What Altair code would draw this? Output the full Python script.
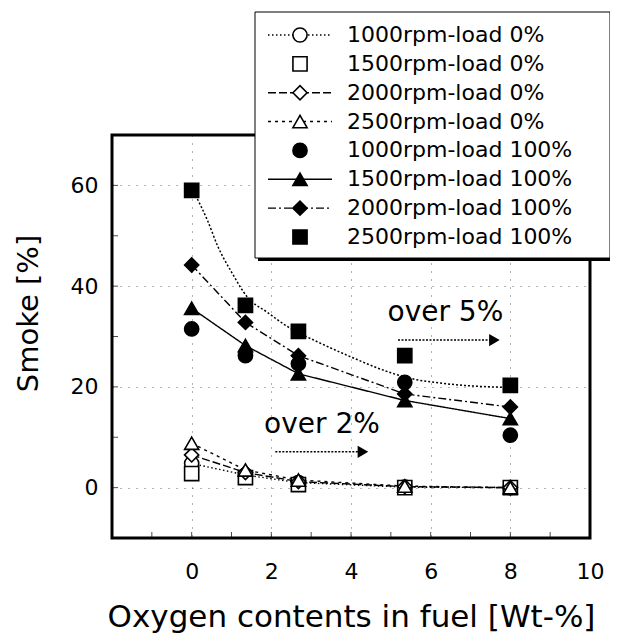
import altair as alt
import pandas as pd

FONT = "DejaVu Sans"

# ---------------- data ----------------
series = ["1000rpm-load 0%", "1500rpm-load 0%", "2000rpm-load 0%", "2500rpm-load 0%",
          "1000rpm-load 100%", "1500rpm-load 100%", "2000rpm-load 100%", "2500rpm-load 100%"]
oxygen = [0.0, 1.35, 2.68, 5.35, 8.0]

s1000_0 = [4.8, 2.5, 1.0, 0.1, 0.0]
s1500_0 = [2.8, 2.0, 0.6, 0.0, 0.0]
s2000_0 = [6.5, 3.0, 1.2, 0.2, 0.0]
s2500_0 = [8.8, 3.5, 1.5, 0.3, 0.0]
s1000_100 = [31.5, 26.2, 24.6, 20.9, 10.4]
s1500_100 = [35.6, 28.2, 22.6, 17.3, 13.7]
s2000_100 = [44.2, 32.8, 26.2, 18.6, 16.0]
s2500_100 = [59.0, 36.2, 31.0, 26.2, 20.3]
values = [s1000_0, s1500_0, s2000_0, s2500_0, s1000_100, s1500_100, s2000_100, s2500_100]

# fitted trend curve through the 2500rpm-load 100% points
fit_x = [0.1, 0.4, 0.65, 1.0, 1.4, 1.9, 2.4, 3.17, 3.75, 4.1, 5.0, 5.6, 6.3, 7.0, 8.0]
fit_y = [58.0, 53.0, 48.0, 42.8, 37.8, 34.8, 32.0, 28.9, 26.8, 25.6, 22.8, 21.5, 20.7, 20.2, 19.9]

shapes = ["circle", "square", "diamond", "triangle-up", "circle", "triangle-up", "diamond", "square"]
fills = ["white", "white", "white", "white", "black", "black", "black", "black"]
sizes = [200, 200, 230, 200, 90, 110, 120, 150]

line_series = ["1000rpm-load 0%", "2000rpm-load 0%", "2500rpm-load 0%",
               "1500rpm-load 100%", "2000rpm-load 100%"]
line_dashes = [[1.5, 2.5], [8, 3], [3, 4], [1, 0], [8, 3, 2, 3]]

ann_text = ["over 5%", "over 2%"]
ann_x = [6.37, 3.27]
ann_y = [34.7, 12.5]
arrow_x0 = [5.18, 2.1]
arrow_x1 = [7.6, 4.3]
arrow_y = [29.3, 7.1]

x_ticks = [-1, 0, 1, 2, 3, 4, 5, 6, 7, 8, 9]
y_ticks = [-10, 0, 10, 20, 30, 40, 50, 60]

# ---------------- tables ----------------
rows = []
for s, v in zip(series, values):
    for xv, yv in zip(oxygen, v):
        rows.append({"series": s, "x": xv, "y": yv})
pts = pd.DataFrame(rows)
lines_df = pts[pts["series"].isin(line_series)]
fit_df = pd.DataFrame({"x": fit_x, "y": fit_y})
ann_df = pd.DataFrame({"text": ann_text, "x": ann_x, "y": ann_y})
arr_df = pd.DataFrame({"x": arrow_x0, "x2": arrow_x1, "y": arrow_y})
xt_df = pd.DataFrame({"x": x_ticks})
yt_df = pd.DataFrame({"y": y_ticks})
leg_df = pd.DataFrame({"series": series, "row": list(range(len(series))), "label": series})
leg_line_df = leg_df[leg_df["series"].isin(line_series)]
one = pd.DataFrame({"a": [0]})

xs = alt.Scale(domain=[-2, 10], nice=False, zero=False)
ys = alt.Scale(domain=[-10, 70], nice=False, zero=False)

x_axis = alt.Axis(values=[0, 2, 4, 6, 8, 10], title="Oxygen contents in fuel [Wt-%]",
                  grid=True, gridDash=[1, 7], gridColor="black", gridOpacity=0.6,
                  ticks=False, domain=False, labelFont=FONT, labelFontSize=22,
                  labelPadding=23, labelFlush=False, labelColor="black",
                  titleFont=FONT, titleFontSize=31, titleFontWeight="normal",
                  titleColor="black", titleY=88, titleBaseline="alphabetic")
y_axis = alt.Axis(values=[0, 20, 40, 60], title="Smoke [%]",
                  grid=True, gridDash=[1, 7], gridColor="black", gridOpacity=0.6,
                  ticks=False, domain=False, labelFont=FONT, labelFontSize=22,
                  labelPadding=14, labelColor="black",
                  titleFont=FONT, titleFontSize=29, titleFontWeight="normal",
                  titleColor="black", titleX=-75, titleY=178, titleBaseline="alphabetic")


def X(field="x"):
    return alt.X(f"{field}:Q", scale=xs, axis=x_axis)


def Y(field="y"):
    return alt.Y(f"{field}:Q", scale=ys, axis=y_axis)


shape_enc = alt.Shape("series:N", scale=alt.Scale(domain=series, range=shapes), legend=None)
fill_enc = alt.Fill("series:N", scale=alt.Scale(domain=series, range=fills), legend=None)
size_enc = alt.Size("series:N", scale=alt.Scale(domain=series, range=sizes), legend=None)
dash_enc = alt.StrokeDash("series:N", scale=alt.Scale(domain=line_series, range=line_dashes), legend=None)

fit_layer = alt.Chart(fit_df).mark_line(color="black", strokeWidth=1.5, strokeDash=[2, 2],
                                        interpolate="monotone").encode(x=X(), y=Y())
line_layer = alt.Chart(lines_df).mark_line(color="black", strokeWidth=1.4).encode(
    x=X(), y=Y(), strokeDash=dash_enc, detail="series:N")
point_layer = alt.Chart(pts).mark_point(filled=True, stroke="black", strokeWidth=1.6, opacity=1).encode(
    x=X(), y=Y(), shape=shape_enc, fill=fill_enc, size=size_enc)
arrow_line = alt.Chart(arr_df).mark_rule(color="black", strokeWidth=1.5, strokeDash=[2, 1.5]).encode(
    x=X(), x2="x2:Q", y=Y())
arrow_head = alt.Chart(arr_df).mark_point(shape="triangle-right", filled=True, color="black",
                                          size=150, opacity=1).encode(x=X("x2"), y=Y())
ann_layer = alt.Chart(ann_df).mark_text(font=FONT, fontSize=28, color="black").encode(
    x=X(), y=Y(), text="text:N")
xtick_layer = alt.Chart(xt_df).mark_tick(color="black", size=6, thickness=1).encode(
    x=X(), y=alt.value(400))
ytick_layer = alt.Chart(yt_df).mark_tick(color="black", size=6, thickness=1).encode(
    y=Y(), x=alt.value(3))

main = alt.layer(fit_layer, line_layer, point_layer, arrow_line, arrow_head, ann_layer,
                 xtick_layer, ytick_layer)

# ---------------- frame + legend ----------------
frame = alt.Chart(one).mark_rect(fillOpacity=0, stroke="black", strokeWidth=3).encode(
    x=alt.value(0), x2=alt.value(478), y=alt.value(0), y2=alt.value(403))
rowY = alt.Y("row:Q", scale=alt.Scale(domain=[0, 7], range=[-100, 102]), axis=None)
leg_shadow = alt.Chart(one).mark_rect(fill="black").encode(
    x=alt.value(146), x2=alt.value(501), y=alt.value(-120), y2=alt.value(126))
leg_box = alt.Chart(one).mark_rect(fill="white", stroke="black", strokeWidth=1).encode(
    x=alt.value(143), x2=alt.value(498), y=alt.value(-123), y2=alt.value(123))
leg_lines = alt.Chart(leg_line_df).mark_rule(color="black", strokeWidth=1.4).encode(
    x=alt.value(156), x2=alt.value(220), y=rowY, strokeDash=dash_enc)
leg_points = alt.Chart(leg_df).mark_point(filled=True, stroke="black", strokeWidth=1.6, opacity=1).encode(
    x=alt.value(188), y=rowY, shape=shape_enc, fill=fill_enc, size=size_enc)
leg_text = alt.Chart(leg_df).mark_text(font=FONT, fontSize=22, align="left", baseline="middle",
                                       color="black").encode(
    x=alt.value(235), y=rowY, text="label:N")
legend = alt.layer(frame, leg_shadow, leg_box, leg_lines, leg_points, leg_text)

chart = alt.layer(main, legend).resolve_scale(y="independent").properties(
    width=478, height=403,
    autosize=alt.AutoSizeParams(type="none"),
    padding={"left": 104, "top": 127, "right": 20, "bottom": 95},
).configure_view(strokeWidth=0).configure(background="white")

chart.save("out.html", embed_options={"renderer": "svg", "actions": False})
